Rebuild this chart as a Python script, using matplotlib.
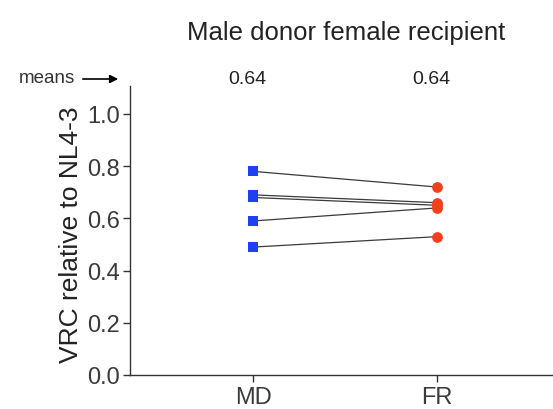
import matplotlib
matplotlib.use("Agg")
import matplotlib.pyplot as plt
from matplotlib.patches import FancyArrowPatch

plt.rcParams['font.family'] = ['Liberation Sans', 'DejaVu Sans']

groups = ["MD", "FR"]
md_values = [0.78, 0.69, 0.68, 0.59, 0.49]
fr_values = [0.72, 0.66, 0.65, 0.64, 0.53]
means = ["0.64", "0.64"]
title = "Male donor female recipient"
ylabel = "VRC relative to NL4-3"
yticks = [0.0, 0.2, 0.4, 0.6, 0.8, 1.0]

W, H = 553, 410
fig = plt.figure(figsize=(W/100, H/100), dpi=100)
ax = fig.add_axes([130/W, 1-376/H, (W-130)/W, (376-87)/H])

xs = [0, 1]
for a, b in zip(md_values, fr_values):
    ax.plot(xs, [a, b], color="#3a3a3a", lw=0.9, zorder=1)
ax.scatter([0]*len(md_values), md_values, marker="s", s=60, color="#1f3ff0", zorder=3, linewidths=0)
ax.scatter([1]*len(fr_values), fr_values, marker="o", s=60, color="#f2401e", zorder=3, linewidths=0)

ax.set_xlim(-0.67, 1.63)
ax.set_ylim(0, 1.107)
ax.set_yticks(yticks)
ax.set_yticklabels([f"{t:.1f}" for t in yticks], fontsize=17, color="#3a3a3a")
ax.set_xticks(xs)
ax.set_xticklabels(groups, fontsize=17, color="#3a3a3a")
ax.spines['top'].set_visible(False)
ax.spines['right'].set_visible(False)
for s in ['left', 'bottom']:
    ax.spines[s].set_linewidth(1.0)
    ax.spines[s].set_color("#333333")
ax.tick_params(direction='out', length=5, width=1, color="#333333")
ax.tick_params(axis='y', pad=2)
ax.tick_params(axis='x', pad=3)

fig.text(71/W, 1-235/H, ylabel, rotation=90, ha='center', va='center', fontsize=19, color="#222222")
fig.text(346/W, 1-40/H, title, ha='center', va='baseline', fontsize=18.5, color="#222222")
for x, m in zip(xs, means):
    ax.annotate(m, xy=(x, 1), xycoords=('data', 'figure fraction'),
                xytext=(-6, -80), textcoords='offset pixels',
                ha='center', va='center', fontsize=14, color="#222222")
fig.text(47/W, 1-79/H, "means", ha='center', va='center', fontsize=13.5, color="#333333")
fig.add_artist(FancyArrowPatch((80/W, 1-80/H), (121/W, 1-80/H),
               transform=fig.transFigure, arrowstyle='-|>', mutation_scale=12, color="black", lw=1.2))

fig.savefig("out.png", dpi=100)
